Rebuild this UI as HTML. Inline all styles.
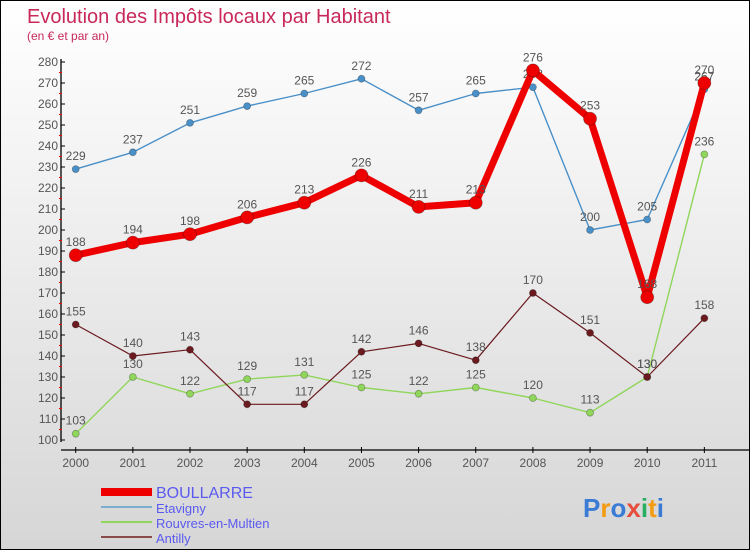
<!DOCTYPE html>
<html><head><meta charset="utf-8"><style>
body{margin:0;}
#c{position:relative;width:748px;height:548px;border:1px solid #000;background:linear-gradient(#fff 0%,#f3f3f3 30%,#d6d6d6 100%);overflow:hidden;font-family:"Liberation Sans",sans-serif;}
svg text{font-family:"Liberation Sans",sans-serif;}
</style></head><body>
<div id="c">
<svg id="s" width="748" height="548" style="position:absolute;left:0;top:0">
<text x="26" y="22" font-size="20" fill="#c8285a">Evolution des Impôts locaux par Habitant</text>
<text x="26" y="39" font-size="12" fill="#c8285a">(en € et par an)</text>
</svg>
</div>
<script>
const years=["2000","2001","2002","2003","2004","2005","2006","2007","2008","2009","2010","2011"];
const boullarre=[188,194,198,206,213,226,211,213,276,253,168,270];
const etavigny=[229,237,251,259,265,272,257,265,268,200,205,267];
const rouvres=[103,130,122,129,131,125,122,125,120,113,130,236];
const antilly=[155,140,143,117,117,142,146,138,170,151,130,158];
const yTicks=[100,110,120,130,140,150,160,170,180,190,200,210,220,230,240,250,260,270,280];
const NS="http://www.w3.org/2000/svg";
const s=document.getElementById('s');
const X=i=>74.7+i*57.15, Y=v=>439-(v-100)*(378/180);
function el(t,a,p){const e=document.createElementNS(NS,t);for(const k in a)e.setAttribute(k,a[k]);(p||s).appendChild(e);return e;}
let ax=el('line',{x1:60,y1:58,x2:60,y2:441,stroke:'#000','stroke-width':1.3});

let bx=el('line',{x1:60,y1:449,x2:748,y2:449,stroke:'#000','stroke-width':1.3});

yTicks.forEach((v,i)=>{
  el('line',{x1:60,y1:Y(v),x2:64,y2:Y(v),stroke:'#000'});
  if(i<yTicks.length-1)el('line',{x1:58,y1:Y(v+5),x2:61,y2:Y(v+5),stroke:'#e00'});
  const t=el('text',{x:57,y:Y(v)+4,'text-anchor':'end','font-size':12,fill:'#555'});t.textContent=v;
  
});
years.forEach((y,i)=>{
  el('line',{x1:X(i),y1:446,x2:X(i),y2:452,stroke:'#000'});
  const t=el('text',{x:X(i),y:466,'text-anchor':'middle','font-size':12,fill:'#555'});t.textContent=y;
  
});
function series(d,col,w,r,name,lab){
  const g=el('g',{});
  el('polyline',{points:d.map((v,i)=>X(i)+','+Y(v)).join(' '),fill:'none',stroke:col,'stroke-width':w,'stroke-linejoin':'round'},g);
  d.forEach((v,i)=>{
    const c=el('circle',{cx:X(i),cy:Y(v),r:r,fill:col,stroke:'rgba(0,0,0,0.3)','stroke-width':0.8},g);
    
    if(lab){const t=el('text',{x:X(i),y:Y(v)-9,'text-anchor':'middle','font-size':12,fill:'#555'},g);t.textContent=v;}
  });
}
series(rouvres,'#8fd65a',1.4,3.5,'rouvres',1);
series(antilly,'#6b1a1f',1.2,3.5,'antilly',1);
series(etavigny,'#4a90c8',1.4,3.5,'etavigny',1);
series(boullarre,'#ee0000',7,6.5,'boullarre',1);
const leg=[['BOULLARRE','#ee0000',8,16],['Etavigny','#7aaed0',2,13],['Rouvres-en-Multien','#8fd65a',2,13],['Antilly','#8a4a4a',2,13]];
leg.forEach((l,i)=>{
  const yy=491+i*15;
  const g=el('g',{});
  el('line',{x1:100,y1:yy,x2:151,y2:yy,stroke:l[1],'stroke-width':l[2]},g);
  const t=el('text',{x:155,y:yy+6,'font-size':l[3],fill:'#5a5af0'},g);t.textContent=l[0];
});
const lg=el('text',{x:582,y:516,'font-size':26,'font-weight':'bold'});

[['P','#3a7bd5'],['r','#f39c12'],['o','#3a7bd5'],['x','#e74c3c'],['i','#27ae60'],['t','#f39c12'],['i','#3a7bd5']].forEach(p=>{el('tspan',{fill:p[1]},lg).textContent=p[0];});
</script>
</body></html>
